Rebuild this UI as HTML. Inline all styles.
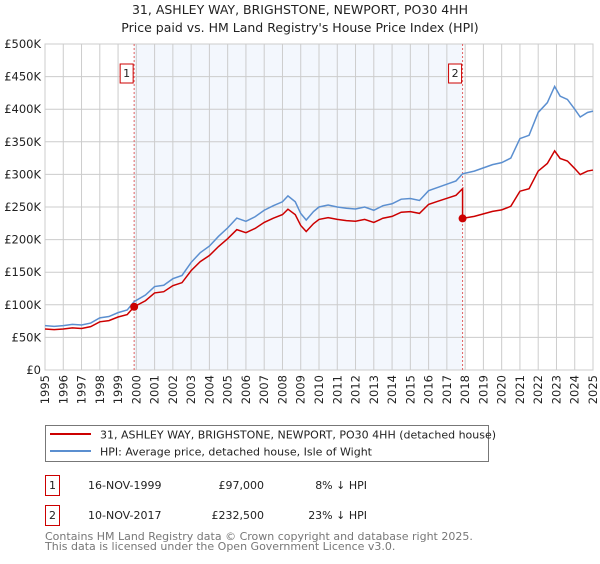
<!DOCTYPE html>
<html><head><meta charset="utf-8">
<style>
body{margin:0;background:#fff;font-family:"DejaVu Sans","Liberation Sans",sans-serif;}
svg text{font-family:"DejaVu Sans","Liberation Sans",sans-serif;}
</style></head>
<body>
<svg id="chart" width="600" height="560" viewBox="0 0 600 560" xmlns="http://www.w3.org/2000/svg">
<text x="300" y="14" text-anchor="middle" font-size="12.5" fill="#222">31, ASHLEY WAY, BRIGHSTONE, NEWPORT, PO30 4HH</text>
<text x="300" y="32" text-anchor="middle" font-size="12.5" fill="#222">Price paid vs. HM Land Registry's House Price Index (HPI)</text>
<g id="plot"></g>
<g>
<rect x="45.5" y="425.5" width="443" height="36" fill="#fff" stroke="#777"/>
<line x1="50" y1="434" x2="91" y2="434" stroke="#cc0000" stroke-width="2"/>
<text x="100" y="438.5" font-size="11" fill="#222">31, ASHLEY WAY, BRIGHSTONE, NEWPORT, PO30 4HH (detached house)</text>
<line x1="50" y1="451" x2="91" y2="451" stroke="#5b8fd0" stroke-width="2"/>
<text x="100" y="455.5" font-size="11" fill="#222">HPI: Average price, detached house, Isle of Wight</text>
</g>
<g font-size="11" fill="#222">
<rect x="45.5" y="475.5" width="14" height="20" fill="#fff" stroke="#cc0000"/>
<text x="52.5" y="489" text-anchor="middle">1</text>
<text x="88" y="489">16-NOV-1999</text>
<text x="264" y="489" text-anchor="end">£97,000</text>
<text x="367" y="489" text-anchor="end">8% ↓ HPI</text>
<rect x="45.5" y="505.5" width="14" height="20" fill="#fff" stroke="#cc0000"/>
<text x="52.5" y="519" text-anchor="middle">2</text>
<text x="88" y="519">10-NOV-2017</text>
<text x="264" y="519" text-anchor="end">£232,500</text>
<text x="367" y="519" text-anchor="end">23% ↓ HPI</text>
</g>
<text x="45" y="540" font-size="11" fill="#777">Contains HM Land Registry data © Crown copyright and database right 2025.</text>
<text x="45" y="550" font-size="11" fill="#777">This data is licensed under the Open Government Licence v3.0.</text>
</svg>
<script>
const hpiYears=[1995,1995.5,1996,1996.5,1997,1997.5,1998,1998.5,1999,1999.5,1999.88,2000.5,2001,2001.5,2002,2002.5,2003,2003.5,2004,2004.5,2005,2005.5,2006,2006.5,2007,2007.5,2008,2008.3,2008.7,2009,2009.3,2009.7,2010,2010.5,2011,2011.5,2012,2012.5,2013,2013.5,2014,2014.5,2015,2015.5,2016,2016.5,2017,2017.5,2017.86,2018.5,2019,2019.5,2020,2020.5,2021,2021.5,2022,2022.5,2022.9,2023.2,2023.6,2024,2024.3,2024.7,2025];
const hpiValues=[68,67,68,70,69,72,80,82,88,92,105,115,128,130,140,145,165,180,190,205,218,233,228,235,245,252,258,267,258,240,230,243,250,253,250,248,247,250,245,252,255,262,263,260,275,280,285,290,301,305,310,315,318,325,355,360,395,410,435,420,415,400,388,395,397];
const saleYears=[1999.88,2017.86];
const salePrices=[97,232.5];
const saleLabels=["1","2"];
const yTicks=[0,50,100,150,200,250,300,350,400,450,500];
const yTickLabels=["£0","£50K","£100K","£150K","£200K","£250K","£300K","£350K","£400K","£450K","£500K"];
const xTicks=[1995,1996,1997,1998,1999,2000,2001,2002,2003,2004,2005,2006,2007,2008,2009,2010,2011,2012,2013,2014,2015,2016,2017,2018,2019,2020,2021,2022,2023,2024,2025];

const NS="http://www.w3.org/2000/svg";
const g=document.getElementById('plot');
const X0=45,X1=593,Y0=370,Y1=44;
const xs=y=>X0+(y-1995)/(2025-1995)*(X1-X0);
const ys=v=>Y0-v/500*(Y0-Y1);
function mk(t,a,p){const e=document.createElementNS(NS,t);for(const k in a)e.setAttribute(k,a[k]);(p||g).appendChild(e);return e;}
function interp(yr){for(let i=0;i<hpiYears.length-1;i++){if(yr>=hpiYears[i]&&yr<=hpiYears[i+1]){const t=(yr-hpiYears[i])/(hpiYears[i+1]-hpiYears[i]);return hpiValues[i]+t*(hpiValues[i+1]-hpiValues[i]);}}return hpiValues[hpiValues.length-1];}

const shade=mk('rect',{x:xs(saleYears[0]),y:Y1,width:xs(saleYears[1])-xs(saleYears[0]),height:Y0-Y1,fill:'#eef3fc',opacity:0.7});


yTicks.forEach((v,i)=>{
  const l=mk('line',{x1:X0,x2:X1,y1:ys(v),y2:ys(v),stroke:'#ccc','stroke-width':1});
  
  
  const t=mk('text',{x:X0-4,y:ys(v)+4,'text-anchor':'end','font-size':11.5,fill:'#222'});
  
  
  t.textContent=yTickLabels[i];
});
xTicks.forEach(v=>{
  const l=mk('line',{x1:xs(v),x2:xs(v),y1:Y1,y2:Y0,stroke:'#ccc','stroke-width':1});
  
  
  const t=mk('text',{x:0,y:0,'text-anchor':'end','font-size':11.5,fill:'#222',transform:`translate(${xs(v)+4},${Y0+5}) rotate(-90)`});
  
  
  t.textContent=v;
});
mk('rect',{x:X0,y:Y1,width:X1-X0,height:Y0-Y1,fill:'none',stroke:'#ccc'});
saleYears.forEach((yr,i)=>{
  const l=mk('line',{x1:xs(yr),x2:xs(yr),y1:Y1,y2:Y0,stroke:'#e06060','stroke-dasharray':'2,2','stroke-width':1});
  
  
  const b=mk('rect',{x:xs(yr)-14,y:64,width:13,height:19,fill:'#fff',stroke:'#cc0000'});
  
  
  const t=mk('text',{x:xs(yr)-7.5,y:77,'text-anchor':'middle','font-size':11,fill:'#222'});
  
  
  t.textContent=saleLabels[i];
});
// HPI line
const hp=mk('polyline',{points:hpiYears.map((y,i)=>xs(y)+','+ys(hpiValues[i])).join(' '),fill:'none',stroke:'#5b8fd0','stroke-width':1.5});


// price paid line: HPI indexed from each sale
const r0=salePrices[0]/interp(saleYears[0]), r1=salePrices[1]/interp(saleYears[1]);
let pts=[];
hpiYears.forEach((y,i)=>{ if(y<saleYears[1]) pts.push(xs(y)+','+ys(hpiValues[i]*r0)); });
pts.push(xs(saleYears[1])+','+ys(interp(saleYears[1])*r0));
pts.push(xs(saleYears[1])+','+ys(salePrices[1]));
hpiYears.forEach((y,i)=>{ if(y>saleYears[1]) pts.push(xs(y)+','+ys(hpiValues[i]*r1)); });
const pl=mk('polyline',{points:pts.join(' '),fill:'none',stroke:'#cc0000','stroke-width':1.5});


saleYears.forEach((yr,i)=>{
  const c=mk('circle',{cx:xs(yr),cy:ys(salePrices[i]),r:4,fill:'#cc0000'});
  
  
});
</script>
</body></html>
